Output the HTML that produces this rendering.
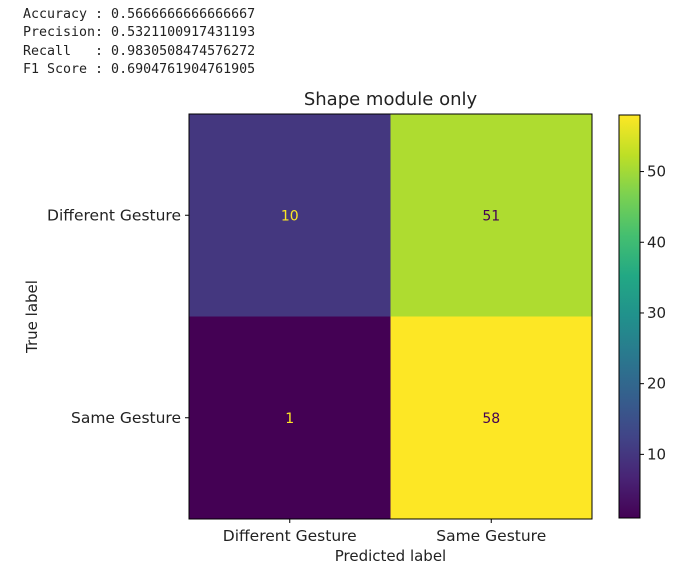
<!DOCTYPE html>
<html><head><meta charset="utf-8"><style>
body{margin:0;background:#fff;width:689px;height:574px;overflow:hidden;font-family:"DejaVu Sans","Liberation Sans",sans-serif}
pre{position:absolute;left:23px;top:6px;margin:0;font-family:"DejaVu Sans Mono","Liberation Mono",monospace;font-size:13.3px;line-height:18.3px;color:#222}
</style></head><body>
<pre>Accuracy : 0.5666666666666667
Precision: 0.5321100917431193
Recall   : 0.9830508474576272
F1 Score : 0.6904761904761905</pre>
<svg id="c" width="689" height="574" style="position:absolute;left:0;top:0">
<defs><linearGradient id="vir" x1="0" y1="1" x2="0" y2="0">
<stop offset="0" stop-color="#440154"/><stop offset="0.1" stop-color="#482475"/><stop offset="0.2" stop-color="#414487"/><stop offset="0.3" stop-color="#355f8d"/><stop offset="0.4" stop-color="#2a788e"/><stop offset="0.5" stop-color="#21918c"/><stop offset="0.6" stop-color="#22a884"/><stop offset="0.7" stop-color="#44bf70"/><stop offset="0.8" stop-color="#7ad151"/><stop offset="0.9" stop-color="#bddf26"/><stop offset="1" stop-color="#fde725"/></linearGradient></defs>
</svg>
<script>
const classes=["Different Gesture","Same Gesture"];
const counts=[[10,51],[1,58]];
const cbarTicks=[10,20,30,40,50];
const NS="http://www.w3.org/2000/svg",svg=document.getElementById('c');
function el(t,a,p){const e=document.createElementNS(NS,t);for(const k in a)e.setAttribute(k,a[k]);(p||svg).appendChild(e);return e;}
const stops=[[0,[68,1,84]],[0.1,[72,36,117]],[0.2,[65,68,135]],[0.3,[53,95,141]],[0.4,[42,120,142]],[0.5,[33,145,140]],[0.6,[34,168,132]],[0.7,[68,191,112]],[0.8,[122,209,81]],[0.9,[189,223,38]],[1,[253,231,37]]];
function vir(t){for(let i=1;i<stops.length;i++){if(t<=stops[i][0]){const a=stops[i-1],b=stops[i],f=(t-a[0])/(b[0]-a[0]);return 'rgb('+a[1].map((v,j)=>Math.round(v+(b[1][j]-v)*f)).join(',')+')';}}return 'rgb(253,231,37)';}
const flat=counts.flat(),vmin=Math.min(...flat),vmax=Math.max(...flat);
const X0=189,Y0=114,W=403,H=405,cw=W/2,ch=H/2;
counts.forEach((row,i)=>row.forEach((v,j)=>{
 const t=(v-vmin)/(vmax-vmin);
 const r=el('rect',{x:X0+j*cw,y:Y0+i*ch,width:cw,height:ch,fill:vir(t)});
 
 
 const tx=el('text',{x:X0+j*cw+cw/2,y:Y0+i*ch+ch/2+5,'text-anchor':'middle','font-size':14,fill:t<0.5?'#fde725':'#440154'});
 tx.textContent=v;
 
 
}));
el('rect',{x:X0,y:Y0,width:W,height:H,fill:'none',stroke:'#000','stroke-width':1});
classes.forEach((c,k)=>{
 const cy=Y0+k*ch+ch/2,cx=X0+k*cw+cw/2;
 el('line',{x1:X0-4,x2:X0,y1:cy,y2:cy,stroke:'#000'});
 const yl=el('text',{x:X0-8,y:cy+5,'text-anchor':'end','font-size':15.5,fill:'#222'});yl.textContent=c;
 
 
 el('line',{x1:cx,x2:cx,y1:Y0+H,y2:Y0+H+4,stroke:'#000'});
 const xl=el('text',{x:cx,y:Y0+H+22,'text-anchor':'middle','font-size':15.5,fill:'#222'});xl.textContent=c;
 
 
});
const tt=el('text',{x:X0+W/2,y:105,'text-anchor':'middle','font-size':18,fill:'#222'});tt.textContent='Shape module only';


const xt=el('text',{x:X0+W/2,y:561,'text-anchor':'middle','font-size':15,fill:'#222'});xt.textContent='Predicted label';


const yt=el('text',{x:0,y:0,'text-anchor':'middle','font-size':15,fill:'#222',transform:'translate(37,'+(Y0+H/2)+') rotate(-90)'});yt.textContent='True label';


const CX=619,CW=21,CY0=115,CY1=518;
const cb=el('rect',{x:CX,y:CY0,width:CW,height:CY1-CY0,fill:'url(#vir)',stroke:'#000','stroke-width':1});


function cy(v){return CY1-(v-vmin)/(vmax-vmin)*(CY1-CY0);}
cbarTicks.forEach(v=>{
 const y=cy(v);
 el('line',{x1:CX+CW,x2:CX+CW+4,y1:y,y2:y,stroke:'#000'});
 const t=el('text',{x:CX+CW+7,y:y+5,'font-size':15,fill:'#222'});t.textContent=v;
 
 
});
</script>
</body></html>
